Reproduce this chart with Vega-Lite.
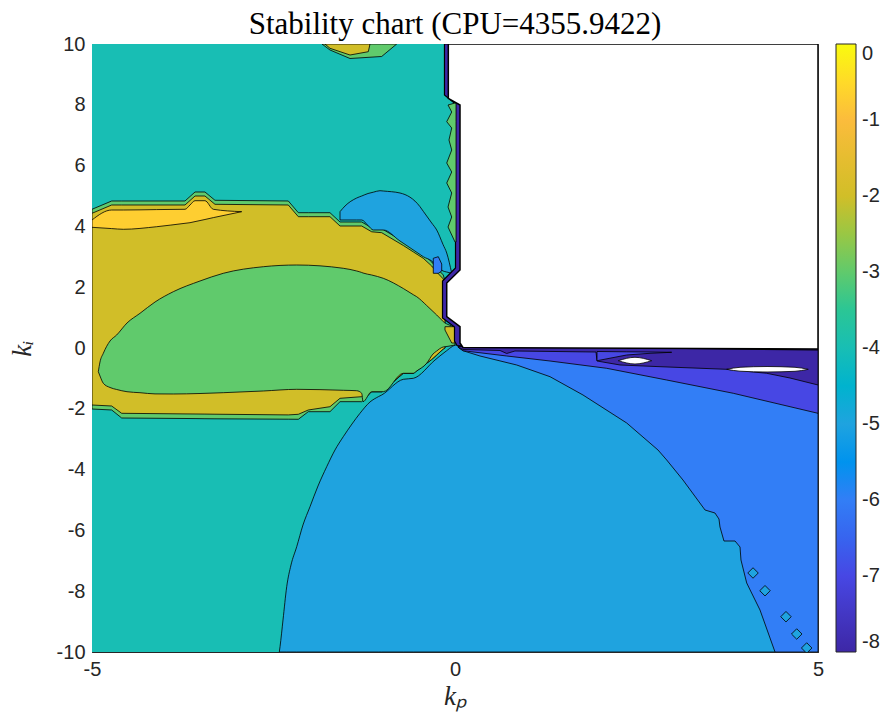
{
  "$schema": "https://vega.github.io/schema/vega-lite/v6.json",
  "width": 726,
  "height": 608,
  "autosize": {"type": "none"},
  "padding": {"left": 92, "top": 44, "right": 67, "bottom": 73},
  "background": "white",
  "title": {"text": "Stability chart (CPU=4355.9422)", "font": "Liberation Serif", "fontSize": 31, "fontWeight": "normal", "color": "black", "offset": -7, "anchor": "middle"},
  "config": {
    "view": {"stroke": "#262626", "strokeWidth": 1},
    "axis": {"labelFont": "Liberation Sans", "labelFontSize": 20, "labelColor": "#262626", "domain": false, "grid": false, "tickColor": "#262626", "tickSize": -7, "tickWidth": 1, "labelPadding": 14, "labelFlush": false, "labelExpr": "toString(datum.value)", "zindex": 1, "titleFont": "Liberation Serif", "titleFontStyle": "italic", "titleFontWeight": "normal", "titleFontSize": 27, "titleColor": "#262626"},
    "legend": {"padding": 0, "labelFont": "Liberation Sans", "labelFontSize": 20, "labelColor": "#262626"}
  },
  "datasets": {
    "base": [{"x": -5, "x2": 5, "y": -10, "y2": 10, "v": -4}],
    "blue5": [
      {"x": -2.420, "y": -10.0, "y2": -10, "v": -5},
      {"x": -2.410, "y": -9.826, "y2": -10, "v": -5},
      {"x": -2.369, "y": -8.947, "y2": -10, "v": -5},
      {"x": -2.318, "y": -7.852, "y2": -10, "v": -5},
      {"x": -2.259, "y": -7.138, "y2": -10, "v": -5},
      {"x": -2.180, "y": -6.536, "y2": -10, "v": -5},
      {"x": -2.094, "y": -5.822, "y2": -10, "v": -5},
      {"x": -1.997, "y": -5.220, "y2": -10, "v": -5},
      {"x": -1.887, "y": -4.539, "y2": -10, "v": -5},
      {"x": -1.767, "y": -3.905, "y2": -10, "v": -5},
      {"x": -1.653, "y": -3.355, "y2": -10, "v": -5},
      {"x": -1.539, "y": -2.918, "y2": -10, "v": -5},
      {"x": -1.419, "y": -2.5, "y2": -10, "v": -5},
      {"x": -1.309, "y": -2.148, "y2": -10, "v": -5},
      {"x": -1.171, "y": -1.776, "y2": -10, "v": -5},
      {"x": -1.056, "y": -1.602, "y2": -10, "v": -5},
      {"x": -1.010, "y": -1.546, "y2": -10, "v": -5},
      {"x": -0.712, "y": -1.030, "y2": -10, "v": -5},
      {"x": -0.574, "y": -0.997, "y2": -10, "v": -5},
      {"x": -0.275, "y": -0.395, "y2": -10, "v": -5},
      {"x": -0.138, "y": -0.132, "y2": -10, "v": -5},
      {"x": 0.023, "y": 0.099, "y2": -10, "v": -5},
      {"x": 0.207, "y": 0.066, "y2": -10, "v": -5},
      {"x": 5.0, "y": 0.033, "y2": -10, "v": -5}
    ],
    "lb6": [
      {"x": 0.041, "y": 0.05, "y2": 0.033, "v": -6},
      {"x": 0.110, "y": 0.05, "y2": -0.089, "v": -6},
      {"x": 0.344, "y": 0.05, "y2": -0.263, "v": -6},
      {"x": 0.850, "y": 0.05, "y2": -0.559, "v": -6},
      {"x": 1.309, "y": 0.05, "y2": -0.944, "v": -6},
      {"x": 1.763, "y": 0.05, "y2": -1.546, "v": -6},
      {"x": 2.365, "y": 0.05, "y2": -2.467, "v": -6},
      {"x": 2.796, "y": 0.05, "y2": -3.355, "v": -6},
      {"x": 2.916, "y": 0.05, "y2": -3.684, "v": -6},
      {"x": 3.140, "y": 0.05, "y2": -4.342, "v": -6},
      {"x": 3.444, "y": 0.05, "y2": -5.329, "v": -6},
      {"x": 3.581, "y": 0.05, "y2": -5.428, "v": -6},
      {"x": 3.636, "y": 0.05, "y2": -5.625, "v": -6},
      {"x": 3.650, "y": 0.05, "y2": -5.888, "v": -6},
      {"x": 3.705, "y": 0.05, "y2": -6.349, "v": -6},
      {"x": 3.857, "y": 0.05, "y2": -6.349, "v": -6},
      {"x": 3.926, "y": 0.05, "y2": -6.546, "v": -6},
      {"x": 3.939, "y": 0.05, "y2": -6.974, "v": -6},
      {"x": 4.018, "y": 0.05, "y2": -7.730, "v": -6},
      {"x": 4.201, "y": 0.05, "y2": -8.618, "v": -6},
      {"x": 4.408, "y": 0.05, "y2": -10, "v": -6},
      {"x": 5.0, "y": 0.05, "y2": -10, "v": -6}
    ],
    "diam": [
      {"x": 4.105, "y": -7.401, "v": -5},
      {"x": 4.270, "y": -7.984, "v": -5},
      {"x": 4.559, "y": -8.839, "v": -5},
      {"x": 4.707, "y": -9.408, "v": -5},
      {"x": 4.844, "y": -9.868, "v": -5}
    ],
    "pu7": [
      {"x": 0.041, "y": 0.05, "y2": 0.03, "v": -7},
      {"x": 0.110, "y": 0.05, "y2": -0.089, "v": -7},
      {"x": 0.712, "y": 0.05, "y2": -0.263, "v": -7},
      {"x": 1.309, "y": 0.05, "y2": -0.428, "v": -7},
      {"x": 2.090, "y": 0.05, "y2": -0.668, "v": -7},
      {"x": 2.916, "y": 0.05, "y2": -1.053, "v": -7},
      {"x": 3.833, "y": 0.05, "y2": -1.490, "v": -7},
      {"x": 5.0, "y": 0.05, "y2": -2.148, "v": -7}
    ],
    "nv8": [
      {"x": 0.05, "y": 0.05, "y2": 0.02, "v": -8},
      {"x": 0.110, "y": 0.05, "y2": -0.049, "v": -8},
      {"x": 0.620, "y": 0.05, "y2": -0.082, "v": -8},
      {"x": 0.712, "y": 0.05, "y2": -0.181, "v": -8},
      {"x": 0.826, "y": 0.05, "y2": -0.099, "v": -8},
      {"x": 1.942, "y": 0.05, "y2": -0.132, "v": -8},
      {"x": 1.956, "y": 0.05, "y2": -0.428, "v": -8},
      {"x": 2.273, "y": 0.05, "y2": -0.559, "v": -8},
      {"x": 2.824, "y": 0.05, "y2": -0.615, "v": -8},
      {"x": 3.742, "y": 0.05, "y2": -0.701, "v": -8},
      {"x": 4.293, "y": 0.05, "y2": -0.832, "v": -8},
      {"x": 4.614, "y": 0.05, "y2": -0.987, "v": -8},
      {"x": 5.0, "y": 0.05, "y2": -1.217, "v": -8}
    ],
    "pu7n": [
      {"x": 1.956, "y": -0.115, "y2": -0.418, "v": -7},
      {"x": 2.365, "y": -0.125, "y2": -0.230, "v": -7},
      {"x": 2.686, "y": -0.132, "y2": -0.174, "v": -7},
      {"x": 2.985, "y": -0.141, "y2": -0.141, "v": -7}
    ],
    "holes": [
      {"x": 2.249, "y": -0.418, "y2": -0.418, "hole": "a"},
      {"x": 2.479, "y": -0.306, "y2": -0.526, "hole": "a"},
      {"x": 2.709, "y": -0.418, "y2": -0.418, "hole": "a"},
      {"x": 3.742, "y": -0.701, "y2": -0.701, "hole": "b"},
      {"x": 3.926, "y": -0.635, "y2": -0.763, "hole": "b"},
      {"x": 4.298, "y": -0.609, "y2": -0.789, "hole": "b"},
      {"x": 4.683, "y": -0.635, "y2": -0.766, "hole": "b"},
      {"x": 4.866, "y": -0.701, "y2": -0.701, "hole": "b"}
    ],
    "gband": [
      {"x": -5.000, "y": 4.563, "y2": -2.007, "v": -3},
      {"x": -4.729, "y": 4.836, "y2": -2.039, "v": -3},
      {"x": -4.591, "y": 4.836, "y2": -2.303, "v": -3},
      {"x": -3.719, "y": 4.836, "y2": -2.319, "v": -3},
      {"x": -3.581, "y": 5.132, "y2": -2.322, "v": -3},
      {"x": -3.444, "y": 5.132, "y2": -2.326, "v": -3},
      {"x": -3.306, "y": 4.859, "y2": -2.329, "v": -3},
      {"x": -2.296, "y": 4.836, "y2": -2.342, "v": -3},
      {"x": -2.158, "y": 4.451, "y2": -2.345, "v": -3},
      {"x": -2.021, "y": 4.451, "y2": -2.095, "v": -3},
      {"x": -1.722, "y": 4.451, "y2": -2.095, "v": -3},
      {"x": -1.584, "y": 4.145, "y2": -1.766, "v": -3},
      {"x": -1.285, "y": 4.145, "y2": -1.766, "v": -3},
      {"x": -1.147, "y": 3.954, "y2": -1.438, "v": -3},
      {"x": -1.010, "y": 3.925, "y2": -1.438, "v": -3},
      {"x": -0.712, "y": 3.504, "y2": -0.832, "v": -3},
      {"x": -0.574, "y": 3.293, "y2": -0.832, "v": -3},
      {"x": -0.437, "y": 3.083, "y2": -0.586, "v": -3},
      {"x": -0.321, "y": 2.829, "y2": -0.378, "v": -3},
      {"x": -0.252, "y": 2.632, "y2": -0.230, "v": -3},
      {"x": -0.161, "y": 2.401, "y2": -0.033, "v": -3},
      {"x": -0.138, "y": 2.204, "y2": 0, "v": -3}
    ],
    "yel": [
      {"x": -5.000, "y": 4.431, "y2": -1.875, "v": -2},
      {"x": -4.729, "y": 4.704, "y2": -1.908, "v": -2},
      {"x": -4.591, "y": 4.704, "y2": -2.148, "v": -2},
      {"x": -3.719, "y": 4.704, "y2": -2.168, "v": -2},
      {"x": -3.581, "y": 5.0, "y2": -2.171, "v": -2},
      {"x": -3.444, "y": 5.0, "y2": -2.174, "v": -2},
      {"x": -3.306, "y": 4.727, "y2": -2.178, "v": -2},
      {"x": -2.296, "y": 4.704, "y2": -2.201, "v": -2},
      {"x": -2.158, "y": 4.319, "y2": -2.181, "v": -2},
      {"x": -2.021, "y": 4.319, "y2": -2.039, "v": -2},
      {"x": -1.722, "y": 4.319, "y2": -1.931, "v": -2},
      {"x": -1.584, "y": 4.013, "y2": -1.655, "v": -2},
      {"x": -1.285, "y": 4.013, "y2": -1.602, "v": -2},
      {"x": -1.147, "y": 3.822, "y2": -1.438, "v": -2},
      {"x": -1.010, "y": 3.793, "y2": -1.438, "v": -2},
      {"x": -0.712, "y": 3.372, "y2": -0.832, "v": -2},
      {"x": -0.574, "y": 3.161, "y2": -0.832, "v": -2},
      {"x": -0.437, "y": 2.951, "y2": -0.586, "v": -2},
      {"x": -0.321, "y": 2.697, "y2": -0.378, "v": -2},
      {"x": -0.252, "y": 2.5, "y2": -0.230, "v": -2},
      {"x": -0.161, "y": 2.270, "y2": -0.033, "v": -2},
      {"x": -0.138, "y": 2.072, "y2": 0, "v": -2}
    ],
    "ysl": [
      {"x": -5.0, "y": 4.211, "y2": 3.970, "v": -0.7},
      {"x": -4.729, "y": 4.539, "y2": 3.928, "v": -0.7},
      {"x": -4.569, "y": 4.539, "y2": 3.905, "v": -0.7},
      {"x": -4.109, "y": 4.553, "y2": 3.990, "v": -0.7},
      {"x": -3.719, "y": 4.563, "y2": 4.102, "v": -0.7},
      {"x": -3.650, "y": 4.704, "y2": 4.122, "v": -0.7},
      {"x": -3.581, "y": 4.845, "y2": 4.158, "v": -0.7},
      {"x": -3.444, "y": 4.845, "y2": 4.227, "v": -0.7},
      {"x": -3.329, "y": 4.563, "y2": 4.289, "v": -0.7},
      {"x": -2.938, "y": 4.484, "y2": 4.484, "v": -0.7}
    ],
    "gell": [
      {"x": -4.913, "y": -0.780, "y2": -0.780, "v": -3},
      {"x": -4.890, "y": -0.461, "y2": -0.921, "v": -3},
      {"x": -4.844, "y": -0.174, "y2": -1.161, "v": -3},
      {"x": -4.752, "y": 0.230, "y2": -1.299, "v": -3},
      {"x": -4.660, "y": 0.428, "y2": -1.365, "v": -3},
      {"x": -4.518, "y": 0.822, "y2": -1.438, "v": -3},
      {"x": -4.339, "y": 1.141, "y2": -1.470, "v": -3},
      {"x": -4.132, "y": 1.513, "y2": -1.510, "v": -3},
      {"x": -3.880, "y": 1.852, "y2": -1.513, "v": -3},
      {"x": -3.512, "y": 2.204, "y2": -1.497, "v": -3},
      {"x": -3.192, "y": 2.457, "y2": -1.470, "v": -3},
      {"x": -2.640, "y": 2.674, "y2": -1.414, "v": -3},
      {"x": -2.180, "y": 2.730, "y2": -1.359, "v": -3},
      {"x": -1.539, "y": 2.622, "y2": -1.391, "v": -3},
      {"x": -1.354, "y": 2.533, "y2": -1.405, "v": -3},
      {"x": -1.285, "y": 2.484, "y2": -1.490, "v": -3},
      {"x": -1.267, "y": 2.467, "y2": -1.766, "v": -3},
      {"x": -1.147, "y": 2.401, "y2": -1.438, "v": -3},
      {"x": -0.988, "y": 2.293, "y2": -1.438, "v": -3},
      {"x": -0.712, "y": 1.957, "y2": -0.832, "v": -3},
      {"x": -0.574, "y": 1.753, "y2": -0.832, "v": -3},
      {"x": -0.528, "y": 1.688, "y2": -0.757, "v": -3},
      {"x": -0.390, "y": 1.398, "y2": -0.503, "v": -3},
      {"x": -0.303, "y": 1.201, "y2": -0.197, "v": -3},
      {"x": -0.252, "y": 1.086, "y2": -0.099, "v": -3},
      {"x": -0.183, "y": 0.921, "y2": 0.016, "v": -3},
      {"x": -0.161, "y": 0.865, "y2": 0.033, "v": -3},
      {"x": -0.096, "y": 0.773, "y2": 0.056, "v": -3},
      {"x": 0.0, "y": 0.691, "y2": 0.099, "v": -3}
    ],
    "ypiece": [
      {"x": -0.138, "y": 0.701, "y2": 0.592, "v": -2},
      {"x": -0.045, "y": 0.701, "y2": 0.164, "v": -2},
      {"x": 0.0, "y": 0.701, "y2": 0.164, "v": -2}
    ],
    "lobe": [
      {"x": -1.584, "y": 4.484, "y2": 4.211, "v": -5},
      {"x": -1.515, "y": 4.671, "y2": 4.211, "v": -5},
      {"x": -1.354, "y": 4.934, "y2": 4.211, "v": -5},
      {"x": -1.285, "y": 5.0, "y2": 4.211, "v": -5},
      {"x": -1.198, "y": 5.082, "y2": 4.030, "v": -5},
      {"x": -1.125, "y": 5.125, "y2": 3.882, "v": -5},
      {"x": -1.033, "y": 5.174, "y2": 3.882, "v": -5},
      {"x": -0.988, "y": 5.164, "y2": 3.882, "v": -5},
      {"x": -0.758, "y": 5.099, "y2": 3.520, "v": -5},
      {"x": -0.482, "y": 4.648, "y2": 3.076, "v": -5},
      {"x": -0.437, "y": 4.497, "y2": 3.003, "v": -5},
      {"x": -0.321, "y": 4.112, "y2": 2.862, "v": -5},
      {"x": -0.252, "y": 3.882, "y2": 2.697, "v": -5},
      {"x": -0.165, "y": 3.405, "y2": 2.533, "v": -5},
      {"x": -0.114, "y": 3.125, "y2": 2.5, "v": -5},
      {"x": -0.045, "y": 2.457, "y2": 2.457, "v": -5}
    ],
    "lbp": [
      {"x": -0.299, "y": 2.951, "y2": 2.457, "v": -6},
      {"x": -0.230, "y": 3.003, "y2": 2.457, "v": -6},
      {"x": -0.183, "y": 2.763, "y2": 2.533, "v": -6}
    ],
    "gtop": [
      {"x": -1.832, "y": 10, "y2": 10, "v": -3},
      {"x": -1.722, "y": 10, "y2": 9.803, "v": -3},
      {"x": -1.446, "y": 10, "y2": 9.523, "v": -3},
      {"x": -1.010, "y": 10, "y2": 9.589, "v": -3},
      {"x": -0.803, "y": 10, "y2": 10, "v": -3}
    ],
    "ytop": [
      {"x": -1.791, "y": 10, "y2": 10, "v": -2},
      {"x": -1.722, "y": 10, "y2": 9.859, "v": -2},
      {"x": -1.446, "y": 10, "y2": 9.638, "v": -2},
      {"x": -1.194, "y": 10, "y2": 9.747, "v": -2},
      {"x": -1.171, "y": 10, "y2": 10, "v": -2}
    ],
    "nband": [
      {"y": 10, "x": -0.145, "x2": 5, "v": -8},
      {"y": 8.322, "x": -0.145, "x2": 5, "v": -8},
      {"y": 8.026, "x": 0.007, "x2": 5, "v": -8},
      {"y": 2.632, "x": 0.007, "x2": 5, "v": -8},
      {"y": 2.204, "x": -0.172, "x2": 5, "v": -8},
      {"y": 0.987, "x": -0.172, "x2": 5, "v": -8},
      {"y": 0.691, "x": -0.007, "x2": 5, "v": -8},
      {"y": 0.230, "x": -0.007, "x2": 5, "v": -8},
      {"y": 0.082, "x": 0.028, "x2": 5, "v": -8},
      {"y": -0.066, "x": 5.0, "x2": 5, "v": -8}
    ],
    "gzig": [
      {"y": 8.059, "x": 0.0, "x2": 0.014, "v": -3},
      {"y": 7.993, "x": -0.096, "x2": 0.014, "v": -3},
      {"y": 7.763, "x": -0.045, "x2": 0.014, "v": -3},
      {"y": 7.444, "x": -0.114, "x2": 0.014, "v": -3},
      {"y": 7.237, "x": -0.045, "x2": 0.014, "v": -3},
      {"y": 6.842, "x": -0.083, "x2": 0.014, "v": -3},
      {"y": 6.513, "x": -0.045, "x2": 0.014, "v": -3},
      {"y": 6.086, "x": -0.114, "x2": 0.014, "v": -3},
      {"y": 5.789, "x": -0.045, "x2": 0.014, "v": -3},
      {"y": 5.428, "x": -0.114, "x2": 0.014, "v": -3},
      {"y": 5.099, "x": -0.045, "x2": 0.014, "v": -3},
      {"y": 4.638, "x": -0.096, "x2": 0.014, "v": -3},
      {"y": 4.309, "x": -0.045, "x2": 0.014, "v": -3},
      {"y": 3.980, "x": -0.096, "x2": 0.014, "v": -3},
      {"y": 3.651, "x": -0.032, "x2": 0.014, "v": -3},
      {"y": 3.487, "x": 0.0, "x2": 0.014, "v": -3}
    ],
    "white": [
      {"y": 10, "x": -0.092, "x2": 5},
      {"y": 8.214, "x": -0.092, "x2": 5},
      {"y": 7.993, "x": 0.069, "x2": 5},
      {"y": 2.566, "x": 0.069, "x2": 5},
      {"y": 2.138, "x": -0.114, "x2": 5},
      {"y": 1.030, "x": -0.114, "x2": 5},
      {"y": 0.701, "x": 0.069, "x2": 5},
      {"y": 0.164, "x": 0.069, "x2": 5},
      {"y": 0.016, "x": 0.110, "x2": 5},
      {"y": -0.033, "x": 5.0, "x2": 5}
    ]
  },
  "resolve": {"axis": {"x": "independent", "y": "independent"}},
  "layer": [
    {
      "encoding": {
        "x": {"field": "x", "type": "quantitative", "scale": {"domain": [-5, 5], "nice": false, "zero": false}, "axis": {"values": [-5, 0, 5], "title": "kₚ", "titlePadding": 4}},
        "y": {"field": "y", "type": "quantitative", "scale": {"domain": [-10, 10], "nice": false, "zero": false}, "axis": {"values": [-10, -8, -6, -4, -2, 0, 2, 4, 6, 8, 10], "title": "kᵢ", "titlePadding": 20}},
        "color": {"field": "v", "type": "quantitative",
          "scale": {"type": "linear", "domain": [-8, -7, -6, -5, -4, -3, -2, -1, 0], "range": ["#3D27A6", "#4747E4", "#327EF6", "#1FA3DF", "#18BEB4", "#60CA6C", "#D1BE28", "#FBBC3C", "#F9FB0E"]},
          "legend": {"title": null, "orient": "right", "offset": 17, "gradientLength": 608, "gradientThickness": 20, "values": [-8, -7, -6, -5, -4, -3, -2, -1, 0], "gradientStrokeColor": "#262626", "gradientStrokeWidth": 1, "labelOffset": 6, "labelBaseline": "middle", "labelExpr": "toString(datum.value)"}}
      },
      "layer": [
        {"data": {"name": "base"}, "mark": {"type": "rect"}, "encoding": {"x2": {"field": "x2"}, "y2": {"field": "y2"}}},
        {"data": {"name": "blue5"}, "mark": {"type": "area", "interpolate": "monotone", "stroke": "black", "strokeWidth": 0.8, "clip": true}, "encoding": {"y2": {"field": "y2"}}},
        {"data": {"name": "lb6"}, "mark": {"type": "area", "stroke": "black", "strokeWidth": 0.8, "clip": true}, "encoding": {"y2": {"field": "y2"}}},
        {"data": {"name": "diam"}, "mark": {"type": "point", "shape": "diamond", "filled": true, "size": 110, "stroke": "black", "strokeWidth": 0.8, "opacity": 1, "clip": true}},
        {"data": {"name": "pu7"}, "mark": {"type": "area", "stroke": "black", "strokeWidth": 0.8, "clip": true}, "encoding": {"y2": {"field": "y2"}}},
        {"data": {"name": "nv8"}, "mark": {"type": "area", "stroke": "black", "strokeWidth": 0.8, "clip": true}, "encoding": {"y2": {"field": "y2"}}},
        {"data": {"name": "pu7n"}, "mark": {"type": "area", "stroke": "black", "strokeWidth": 0.8, "clip": true}, "encoding": {"y2": {"field": "y2"}}},
        {"data": {"name": "holes"}, "mark": {"type": "area", "interpolate": "monotone", "fill": "white", "stroke": "black", "strokeWidth": 0.8, "clip": true}, "encoding": {"y2": {"field": "y2"}, "color": {"value": "white"}, "detail": {"field": "hole", "type": "nominal"}}},
        {"data": {"name": "gband"}, "mark": {"type": "area", "stroke": "black", "strokeWidth": 0.8, "clip": true}, "encoding": {"y2": {"field": "y2"}}},
        {"data": {"name": "yel"}, "mark": {"type": "area", "stroke": "black", "strokeWidth": 0.8, "clip": true}, "encoding": {"y2": {"field": "y2"}}},
        {"data": {"name": "ysl"}, "mark": {"type": "area", "interpolate": "monotone", "stroke": "black", "strokeWidth": 0.8, "clip": true}, "encoding": {"y2": {"field": "y2"}}},
        {"data": {"name": "gell"}, "mark": {"type": "area", "interpolate": "monotone", "stroke": "black", "strokeWidth": 0.8, "clip": true}, "encoding": {"y2": {"field": "y2"}}},
        {"data": {"name": "ypiece"}, "mark": {"type": "area", "stroke": "black", "strokeWidth": 0.8, "clip": true}, "encoding": {"y2": {"field": "y2"}}},
        {"data": {"name": "lobe"}, "mark": {"type": "area", "interpolate": "monotone", "stroke": "black", "strokeWidth": 0.8, "clip": true}, "encoding": {"y2": {"field": "y2"}}},
        {"data": {"name": "lbp"}, "mark": {"type": "area", "stroke": "black", "strokeWidth": 0.8, "clip": true}, "encoding": {"y2": {"field": "y2"}}},
        {"data": {"name": "gtop"}, "mark": {"type": "area", "stroke": "black", "strokeWidth": 0.8, "clip": true}, "encoding": {"y2": {"field": "y2"}}},
        {"data": {"name": "ytop"}, "mark": {"type": "area", "stroke": "black", "strokeWidth": 0.8, "clip": true}, "encoding": {"y2": {"field": "y2"}}},
        {"data": {"name": "nband"}, "mark": {"type": "area", "orient": "horizontal", "stroke": "black", "strokeWidth": 1.2, "clip": true}, "encoding": {"x2": {"field": "x2"}}},
        {"data": {"name": "gzig"}, "mark": {"type": "area", "orient": "horizontal", "stroke": "black", "strokeWidth": 0.8, "clip": true}, "encoding": {"x2": {"field": "x2"}}},
        {"data": {"name": "white"}, "mark": {"type": "area", "orient": "horizontal", "fill": "white", "stroke": "black", "strokeWidth": 1.5, "clip": true}, "encoding": {"x2": {"field": "x2"}, "color": {"value": "white"}}}
      ]
    },
    {
      "data": {"name": "base"},
      "mark": {"type": "rect", "fillOpacity": 0, "strokeOpacity": 0},
      "encoding": {
        "x": {"field": "x", "type": "quantitative", "scale": {"domain": [-5, 5], "nice": false, "zero": false}, "axis": {"orient": "top", "values": [-5, 0, 5], "labels": false, "title": null}},
        "x2": {"field": "x2"},
        "y": {"field": "y", "type": "quantitative", "scale": {"domain": [-10, 10], "nice": false, "zero": false}, "axis": {"orient": "right", "values": [-10, -8, -6, -4, -2, 0, 2, 4, 6, 8, 10], "labels": false, "title": null}},
        "y2": {"field": "y2"}
      }
    }
  ]
}
